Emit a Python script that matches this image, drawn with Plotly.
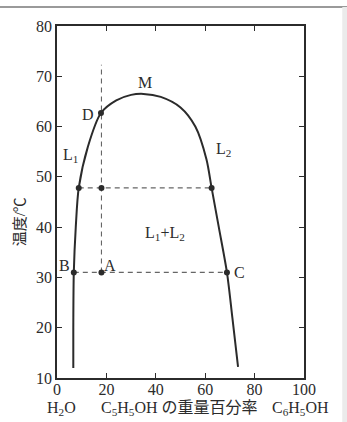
import plotly.graph_objects as go

# binodal curve (C6H5OH weight %, temperature °C)
curve_x = [6.6, 6.6, 6.8, 7.6, 8.8, 12.5, 17.8, 24.0, 30.0, 35.0, 42.0, 50.0, 56.0, 60.5, 62.6, 65.5, 68.8, 71.0, 73.3]
curve_y = [12.0, 20.0, 31.0, 40.0, 47.8, 56.0, 62.7, 65.2, 66.3, 66.5, 65.9, 63.8, 60.0, 53.5, 47.8, 40.0, 31.0, 22.0, 12.2]

# tie lines / dashed guides
tie48_x = [8.8, 62.6]
tie48_y = [47.8, 47.8]
tie31_x = [6.8, 68.8]
tie31_y = [31.0, 31.0]
vert_x = [18.0, 18.0]
vert_y = [31.0, 72.3]

# marked points
pt_x = [6.8, 18.0, 68.8, 8.8, 18.0, 62.6, 17.8]
pt_y = [31.0, 31.0, 31.0, 47.8, 47.8, 47.8, 62.7]

# labels
lab_text = ["D", "M", "L<sub>1</sub>", "L<sub>2</sub>", "L<sub>1</sub>+L<sub>2</sub>", "B", "A", "C"]
lab_x = [12.4, 35.5, 5.5, 67.5, 43.6, 3.2, 21.5, 74.0]
lab_y = [62.5, 68.8, 54.3, 55.5, 38.8, 32.4, 32.4, 30.9]

x_ticks = [0, 20, 40, 60, 80, 100]
y_ticks = [10, 20, 30, 40, 50, 60, 70, 80]

SERIF = "Liberation Serif, Noto Sans CJK JP, serif"
INK = "#2b2b2b"

fig = go.Figure()
fig.add_trace(go.Scatter(x=curve_x, y=curve_y, mode="lines", line=dict(color=INK, width=2, shape="spline", smoothing=0.8), hoverinfo="skip"))
for xs, ys in [(tie48_x, tie48_y), (tie31_x, tie31_y), (vert_x, vert_y)]:
    fig.add_trace(go.Scatter(x=xs, y=ys, mode="lines", line=dict(color="#666", width=1.1, dash="5px,4px"), hoverinfo="skip"))
fig.add_trace(go.Scatter(x=pt_x, y=pt_y, mode="markers", marker=dict(color=INK, size=6), hoverinfo="skip"))

for t, x, y in zip(lab_text, lab_x, lab_y):
    fig.add_annotation(x=x, y=y, text=t, showarrow=False, xanchor="center", yanchor="middle",
                       font=dict(family=SERIF, size=16, color=INK))

# axis titles below / left
for t, px in [("H<sub>2</sub>O", 0.017), ("C<sub>5</sub>H<sub>5</sub>OH の重量百分率", 0.497), ("C<sub>6</sub>H<sub>5</sub>OH", 0.987)]:
    fig.add_annotation(xref="paper", yref="paper", x=px, y=-0.088, text=t, showarrow=False,
                       xanchor="center", yanchor="middle", font=dict(family=SERIF, size=16, color=INK))
fig.add_annotation(xref="paper", yref="paper", x=-0.15, y=0.445, text="温度/℃", textangle=-90, showarrow=False,
                   xanchor="center", yanchor="middle", font=dict(family=SERIF, size=15, color=INK))

# page edge decorations
fig.add_shape(type="line", xref="paper", yref="paper", x0=-0.3, x1=1.2, y0=1.054, y1=1.054, line=dict(color="#9a9a9a", width=2))
fig.add_shape(type="rect", xref="paper", yref="paper", x0=1.155, x1=1.2, y0=-0.2, y1=1.054, line=dict(width=0), fillcolor="#ebebeb")

axis_common = dict(showline=True, linecolor=INK, linewidth=1.5, mirror="ticks", ticks="inside", ticklen=5,
                   tickcolor=INK, tickwidth=1.3, showgrid=False, zeroline=False,
                   tickfont=dict(family=SERIF, size=16, color=INK))
fig.update_xaxes(range=[0, 100], tickvals=x_ticks, ticklabelstandoff=-4, **axis_common)
fig.update_yaxes(range=[10, 80], tickvals=y_ticks, **axis_common)

fig.update_layout(width=347, height=422, margin=dict(l=57, r=43, t=26, b=44),
                  plot_bgcolor="white", paper_bgcolor="white", showlegend=False)

fig.write_html("out.html")
